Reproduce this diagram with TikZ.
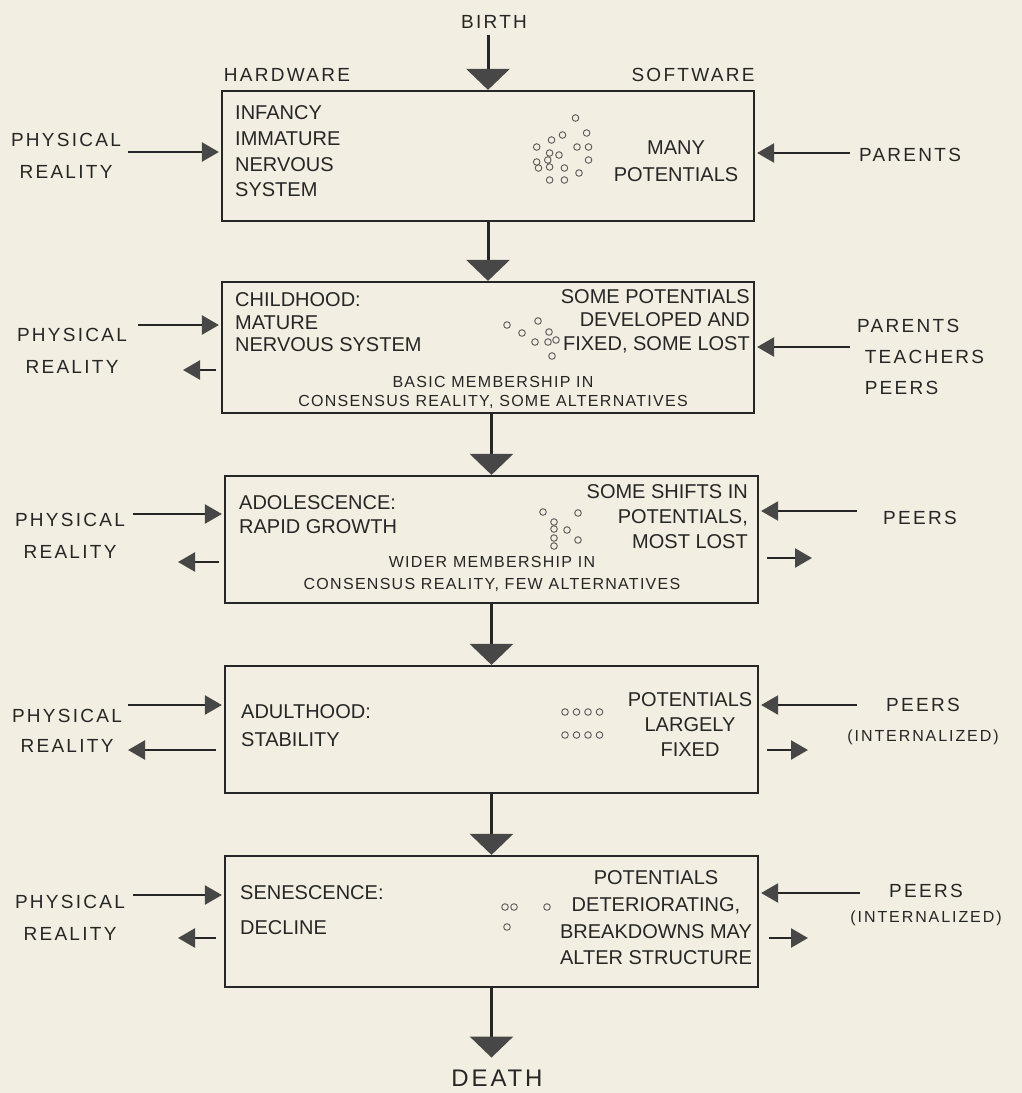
\documentclass[tikz,border=0pt]{standalone}
\usepackage{fontspec}
\setmainfont{Liberation Sans}
\newfontfamily\lblf[LetterSpace=12]{Liberation Sans}
\newfontfamily\smf[LetterSpace=8]{Liberation Sans}
\usetikzlibrary{arrows.meta}
\definecolor{bg}{HTML}{F3EEE2}
\definecolor{ink}{HTML}{262626}
\definecolor{headc}{HTML}{474747}
\definecolor{potc}{HTML}{5A5A5A}
\begin{document}
\begin{tikzpicture}[x=1pt,y=-1pt,
  stagebox/.style={draw=ink, line width=2.2pt, minimum width=532pt, inner sep=0pt},
  boxtxt/.style={inner sep=0pt, text=ink},
  outlbl/.style={inner sep=0pt, text=ink, align=center},
  mainarr/.style={draw=ink, line width=3pt, -{Triangle[length=21pt,width=43pt,color=headc]}},
  sidearr/.style={draw=ink, line width=2.4pt, -{Triangle[length=17pt,width=19pt,color=headc]}},
  pot/.style={draw=potc, line width=0.9pt}
]
\fill[bg] (0,0) rectangle (1022,1093);
\useasboundingbox (0,0) rectangle (1022,1093);

% stage boxes
\node[stagebox, minimum height=130pt] (b1) at (488,156) {};
\node[stagebox, minimum height=131pt] (b2) at (488,347.5) {};
\node[stagebox, minimum width=533pt, minimum height=127pt] (b3) at (491.5,539.5) {};
\node[stagebox, minimum width=533pt, minimum height=127pt] (b4) at (491.5,729.5) {};
\node[stagebox, minimum width=533pt, minimum height=131pt] (b5) at (491.5,921.5) {};

% top / bottom labels
\node[outlbl, font=\lblf\fontsize{19}{22}\selectfont] (birth) at (494,22) {BIRTH};
\node[outlbl, font=\lblf\fontsize{19}{22}\selectfont] (hw) at (287,75) {HARDWARE};
\node[outlbl, font=\lblf\fontsize{19}{22}\selectfont] (sw) at (693,75) {SOFTWARE};
\node[outlbl, font=\lblf\fontsize{24}{26}\selectfont] (death) at (497,1078) {DEATH};

% main flow
\draw[mainarr] (birth.south -| b1.north) ++(0,6) -- (b1.north);
\draw[mainarr] (b1.south) -- (b2.north);
\draw[mainarr] (b2.south -| b3.north) -- (b3.north);
\draw[mainarr] (b3.south) -- (b4.north);
\draw[mainarr] (b4.south) -- (b5.north);
\draw[mainarr, shorten >=12pt] (b5.south) -- (b5.south |- death.north);

% box 1
\node[boxtxt, align=left, anchor=west, font=\fontsize{20}{25.7}\selectfont] (t1l) at (235,151.5) {INFANCY\\IMMATURE\\NERVOUS\\SYSTEM};
\node[boxtxt, align=center, font=\fontsize{20}{27}\selectfont] (t1r) at (676,161.5) {MANY\\POTENTIALS};
\foreach \p in {(575.5,118),(551.5,140),(562.5,135),(586.6,133),(536.7,147),(577,147),(588.5,147),(549.6,153),(559,155),(588.5,160),(536.7,162),(547.8,160),(538.5,168),(549.6,167),(564.4,168),(579,173),(549.6,180),(564.4,180)}
  \draw[pot] \p circle[radius=3.3pt];

% box 2
\node[boxtxt, align=left, anchor=west, font=\fontsize{20}{22.5}\selectfont] (t2l) at (235,322.5) {CHILDHOOD:\\MATURE\\NERVOUS SYSTEM};
\node[boxtxt, align=right, anchor=east, font=\fontsize{20}{23.5}\selectfont] (t2r) at (750,321) {SOME POTENTIALS\\DEVELOPED AND\\FIXED, SOME LOST};
\node[boxtxt, align=center, font=\smf\fontsize{16}{19}\selectfont] (t2b) at (493,392.5) {BASIC MEMBERSHIP IN\\CONSENSUS REALITY, SOME ALTERNATIVES};
\foreach \p in {(507,325),(522,333),(538,321),(549,332),(535,342),(548,342),(552,356),(556,340)}
  \draw[pot] \p circle[radius=3.3pt];

% box 3
\node[boxtxt, align=left, anchor=west, font=\fontsize{20}{24}\selectfont] (t3l) at (239,515) {ADOLESCENCE:\\RAPID GROWTH};
\node[boxtxt, align=right, anchor=east, font=\fontsize{20}{25}\selectfont] (t3r) at (748,517) {SOME SHIFTS IN\\POTENTIALS,\\MOST LOST};
\node[boxtxt, align=center, font=\smf\fontsize{16}{22}\selectfont] (t3b) at (492,574) {WIDER MEMBERSHIP IN\\CONSENSUS REALITY, FEW ALTERNATIVES};
\foreach \p in {(543,512),(578,513),(554,522),(554,529),(567,530),(578,540),(554,538),(554,546)}
  \draw[pot] \p circle[radius=3.3pt];

% box 4
\node[boxtxt, align=left, anchor=west, font=\fontsize{20}{28}\selectfont] (t4l) at (241,726) {ADULTHOOD:\\STABILITY};
\node[boxtxt, align=center, font=\fontsize{20}{25}\selectfont] (t4r) at (690,725) {POTENTIALS\\LARGELY\\FIXED};
\foreach \p in {(565,712),(576.5,712),(588,712),(599.5,712),(565,735),(576.5,735),(588,735),(599.5,735)}
  \draw[pot] \p circle[radius=3.3pt];

% box 5
\node[boxtxt, align=left, anchor=west, font=\fontsize{20}{35}\selectfont] (t5l) at (240,910.5) {SENESCENCE:\\DECLINE};
\node[boxtxt, align=center, font=\fontsize{20}{26.7}\selectfont] (t5r) at (656,918) {POTENTIALS\\DETERIORATING,\\BREAKDOWNS MAY\\ALTER STRUCTURE};
\foreach \p in {(505,907),(514,907),(547,907),(507,927)}
  \draw[pot] \p circle[radius=3.3pt];

% left labels
\node[outlbl, font=\lblf\fontsize{19}{32}\selectfont] (pr1) at (66,156) {PHYSICAL\\REALITY};
\node[outlbl, font=\lblf\fontsize{19}{32}\selectfont] (pr2) at (72,351) {PHYSICAL\\REALITY};
\node[outlbl, font=\lblf\fontsize{19}{32}\selectfont] (pr3) at (70,536) {PHYSICAL\\REALITY};
\node[outlbl, font=\lblf\fontsize{19}{30}\selectfont] (pr4) at (67,731) {PHYSICAL\\REALITY};
\node[outlbl, font=\lblf\fontsize{19}{32}\selectfont] (pr5) at (70,918) {PHYSICAL\\REALITY};

% right labels
\node[outlbl, font=\lblf\fontsize{19}{22}\selectfont] (so1) at (910,155) {PARENTS};
\node[outlbl, align=left, anchor=west, font=\lblf\fontsize{19}{31}\selectfont] (so2) at (857,357) {PARENTS\\\ TEACHERS\\\ PEERS};
\node[outlbl, font=\lblf\fontsize{19}{22}\selectfont] (so3) at (920,518) {PEERS};
\node[outlbl, font=\lblf\fontsize{19}{30}\selectfont] (so4) at (923,722) {PEERS\\\fontsize{16}{30}\selectfont(INTERNALIZED)};
\node[outlbl, font=\lblf\fontsize{19}{25}\selectfont] (so5) at (926,905.5) {PEERS\\\fontsize{16}{25}\selectfont(INTERNALIZED)};

% arrow end coordinates
\coordinate (li1) at (128,152);
\coordinate (li2) at (138,325);
\coordinate (li3) at (133,514);
\coordinate (li4) at (128,705);
\coordinate (li5) at (133,895);
\coordinate (lo2) at (183,370);
\coordinate (lo3) at (178,562);
\coordinate (lo4) at (128,750);
\coordinate (lo5) at (178,938);
\coordinate (ri1) at (850,153);
\coordinate (ri2) at (850,347);
\coordinate (ri3) at (857,511);
\coordinate (ri4) at (857,705);
\coordinate (ri5) at (860,893);
\coordinate (ro3) at (812,558);
\coordinate (ro4) at (808,750);
\coordinate (ro5) at (808,938);

% physical reality in/out
\draw[sidearr, shorten >=2pt] (li1) -- (li1 -| b1.west);
\draw[sidearr, shorten >=2pt] (li2) -- (li2 -| b2.west);
\draw[sidearr, shorten >=2pt] (li3) -- (li3 -| b3.west);
\draw[sidearr, shorten >=2pt] (li4) -- (li4 -| b4.west);
\draw[sidearr, shorten >=2pt] (li5) -- (li5 -| b5.west);
\draw[sidearr, shorten <=5pt] (lo2 -| b2.west) -- (lo2);
\draw[sidearr, shorten <=5pt] (lo3 -| b3.west) -- (lo3);
\draw[sidearr, shorten <=8pt] (lo4 -| b4.west) -- (lo4);
\draw[sidearr, shorten <=8pt] (lo5 -| b5.west) -- (lo5);

% social in/out
\draw[sidearr, shorten >=2pt] (ri1) -- (ri1 -| b1.east);
\draw[sidearr, shorten >=2pt] (ri2) -- (ri2 -| b2.east);
\draw[sidearr, shorten >=2pt] (ri3) -- (ri3 -| b3.east);
\draw[sidearr, shorten >=2pt] (ri4) -- (ri4 -| b4.east);
\draw[sidearr, shorten >=2pt] (ri5) -- (ri5 -| b5.east);
\draw[sidearr, shorten <=8pt] (ro3 -| b3.east) -- (ro3);
\draw[sidearr, shorten <=8pt] (ro4 -| b4.east) -- (ro4);
\draw[sidearr, shorten <=10pt] (ro5 -| b5.east) -- (ro5);
\end{tikzpicture}
\end{document}
